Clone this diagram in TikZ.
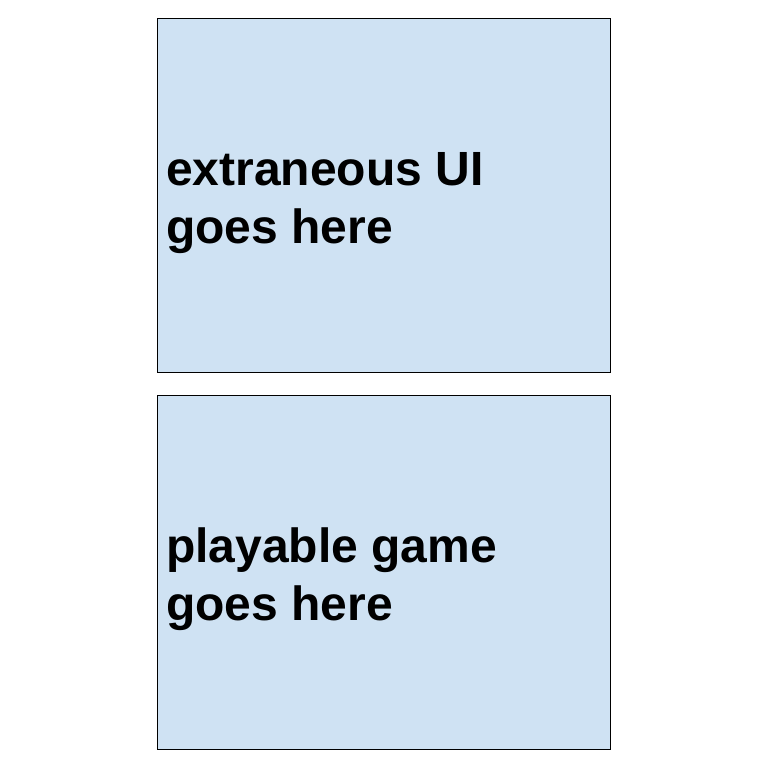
\documentclass[tikz,border=0pt]{standalone}
\usepackage{fontspec}
\setmainfont{Liberation Sans}
\definecolor{boxblue}{HTML}{CFE2F3}
\begin{document}
\begin{tikzpicture}[x=1pt,y=1pt,
  panel/.style={draw=black,fill=boxblue,line width=0.9pt},
  label/.style={anchor=base west,inner sep=0pt,align=left,font=\fontsize{48}{57.5}\selectfont\bfseries}]
\useasboundingbox (0,0) rectangle (768,768);
\fill[white] (0,0) rectangle (768,768);
\draw[panel] (157,750) rectangle (610,396);
\draw[panel] (157,373) rectangle (610,19);
\node[label] (top) at (166,524.5) {extraneous UI\\goes here};
\node[label] (bot) at (166,147.5) {playable game\\goes here};
\end{tikzpicture}
\end{document}
